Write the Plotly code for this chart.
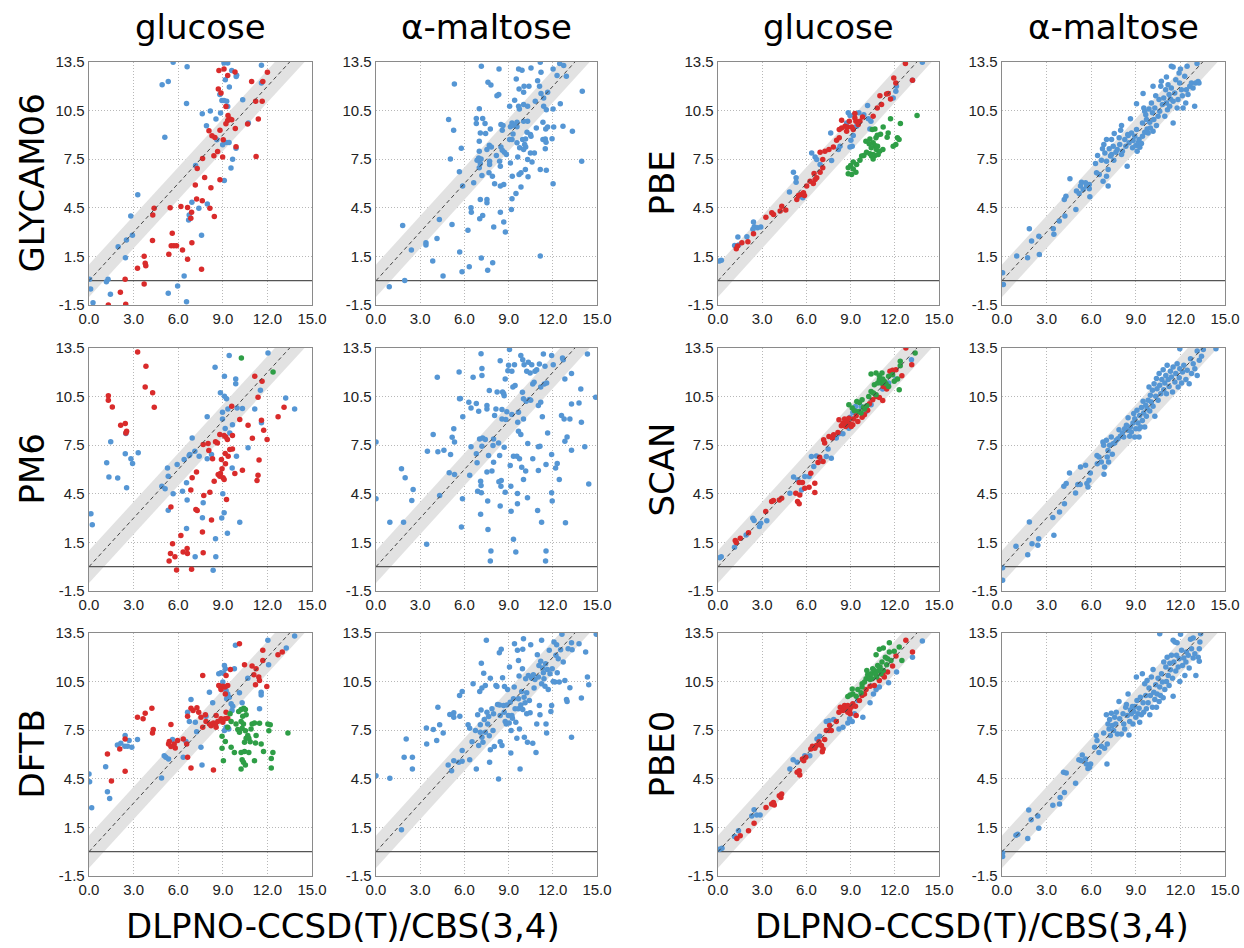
import plotly.graph_objects as go

# ---------------- labels / ticks ----------------
col_titles = ["glucose", "α-maltose", "glucose", "α-maltose"]
row_labels_left = ["GLYCAM06", "PM6", "DFTB"]
row_labels_right = ["PBE", "SCAN", "PBE0"]
x_label = "DLPNO-CCSD(T)/CBS(3,4)"
x_ticks = [0.0, 3.0, 6.0, 9.0, 12.0, 15.0]
y_ticks = [-1.5, 1.5, 4.5, 7.5, 10.5, 13.5]
x_range = [0.0, 15.0]
y_range = [-1.5, 13.5]
band_half = 1.0

# ---------------- data (x = DLPNO-CCSD(T), y = method) ----------------
glycam_glc_blue = [(5.66,13.48),(6.6,13.2),(4.92,12.1),(5.33,12.3),(6.56,10.94),(5.1,8.86),(7.62,10.3),(7.9,9.56),(8.16,10.47),(8.85,10.35),(8.54,9.98),(9.08,13.44),(9.33,13.44),(9.6,12.98),(9.93,12.68),(9.9,12.6),(9.17,12.4),(9.44,11.95),(8.8,11.5),(8.94,11.13),(9.08,11.13),(9.26,11.07),(9.33,10.76),(10.34,11.17),(11.6,13.3),(11.6,12.2),(8.6,8.7),(8.99,8.39),(9.26,8.53),(9.42,8.53),(9.89,8.18),(9.66,7.5),(9.55,6.95),(9.1,6.18),(10.72,9.73),(7.17,7.11),(3.28,5.3),(2.81,4.0),(2.92,2.8),(2.52,2.52),(1.96,2.1),(2.45,1.42),(6.92,4.85),(7.39,4.47),(7.96,4.74),(6.74,4.06),(6.7,3.75),(7.57,2.8),(6.4,0.29),(5.96,-0.33),(5.33,-0.78),(6.56,-1.3),(1.28,0.09),(1.17,-0.06),(1.44,-0.84),(0.11,-0.51),(0.04,0.09),(0.27,-1.36)]
glycam_glc_red = [(8.74,12.98),(9.08,13.07),(9.33,12.66),(9.82,12.88),(10.94,12.3),(12.0,12.86),(11.69,12.3),(11.21,11.07),(11.65,11.07),(8.7,11.83),(8.88,11.58),(9.21,10.76),(9.35,10.2),(9.33,9.89),(9.48,9.98),(9.21,9.69),(9.6,9.93),(9.84,9.4),(8.81,9.28),(8.07,9.26),(8.27,8.95),(8.47,8.84),(9.03,8.7),(8.65,7.98),(8.4,7.71),(8.99,7.63),(7.64,7.54),(7.28,6.93),(7.78,6.37),(8.81,6.23),(7.15,5.9),(8.2,5.73),(7.24,5.05),(7.62,4.93),(8.13,4.47),(8.43,3.96),(6.18,4.58),(6.63,4.52),(6.9,4.23),(6.85,3.86),(5.46,4.5),(4.38,4.47),(4.29,4.06),(4.27,2.48),(5.6,2.93),(5.53,2.15),(5.71,2.15),(5.89,2.15),(5.37,1.63),(6.29,1.9),(6.92,2.35),(6.63,1.32),(7.57,0.7),(3.71,1.51),(3.78,1.07),(3.82,0.93),(3.26,0.77),(3.71,-0.2),(2.43,0.09),(2.11,-0.72),(2.47,-1.46),(1.3,-1.5),(11.39,9.98),(11.24,7.67),(10.67,9.67),(9.89,8.27)]
glycam_mal = [(7.15,13.23),(8.35,13.07),(9.68,13.07),(9.91,12.99),(10.52,13.13),(11.15,13.48),(11.2,12.86),(12.02,13.07),(12.47,13.4),(12.74,13.29),(12.29,12.66),(12.92,12.62),(5.32,12.14),(7.6,12.25),(7.8,12.08),(9.52,12.45),(9.71,11.84),(10.02,11.63),(10.05,12.0),(10.38,12.0),(10.97,12.35),(11.1,12.0),(11.2,11.55),(11.38,11.28),(11.65,11.63),(10.81,11.08),(8.21,11.42),(8.33,11.49),(9.41,11.14),(9.07,10.77),(9.68,10.77),(9.73,10.6),(10.02,10.87),(10.29,10.77),(11.38,10.77),(11.56,10.56),(12.02,10.6),(12.51,10.93),(7.01,10.62),(4.93,9.95),(6.81,10.01),(7.24,10.01),(6.81,9.7),(7.4,9.7),(5.27,9.29),(7.08,9.12),(7.44,9.08),(7.76,9.37),(8.48,9.64),(8.57,9.29),(8.62,9.58),(9.12,9.5),(9.23,9.74),(9.34,9.58),(9.57,9.78),(9.57,9.5),(9.3,9.06),(9.23,8.71),(9.07,8.71),(9.57,8.51),(9.95,8.71),(10.15,8.75),(10.25,9.16),(10.48,9.02),(10.52,8.92),(10.29,9.84),(10.02,9.84),(10.88,9.43),(11.33,9.78),(11.52,9.37),(11.65,9.49),(12.06,9.49),(12.69,9.54),(13.33,9.23),(11.33,8.71),(11.49,8.75),(11.54,8.55),(11.95,8.77),(11.49,8.14),(10.16,8.26),(9.75,8.2),(10.02,8.1),(10.09,8.4),(10.48,7.89),(10.75,7.89),(10.29,7.48),(10.59,7.32),(9.62,7.64),(9.12,7.27),(8.48,8.26),(8.57,8.05),(8.71,7.93),(8.85,7.79),(8.39,7.38),(8.44,7.07),(7.69,8.36),(7.83,8.26),(7.53,8.1),(8.17,7.73),(7.01,7.99),(7.01,8.61),(5.79,8.18),(5.05,7.52),(6.97,7.58),(7.13,7.52),(7.08,7.23),(7.01,6.97),(6.86,7.44),(7.71,7.38),(7.71,7.17),(7.19,6.49),(7.67,6.66),(7.9,6.45),(6.63,6.04),(5.88,5.84),(5.66,6.72),(8.05,5.98),(8.44,5.84),(8.67,5.94),(9.25,6.45),(9.71,6.55),(9.84,6.66),(9.84,5.79),(10.14,6.86),(10.32,6.41),(11.15,6.86),(11.56,6.82),(12.02,5.98),(13.96,7.38),(14.0,11.69),(9.5,5.38),(9.23,5.06),(7.08,5.01),(7.53,5.01),(7.53,4.81),(6.45,4.5),(6.47,4.23),(9.19,4.4),(8.44,4.23),(7.24,4.03),(7.04,3.82),(5.16,3.47),(4.3,3.78),(1.81,3.41),(6.24,3.12),(7.99,3.31),(8.67,3.62),(8.78,3.0),(4.14,2.61),(3.39,2.34),(3.39,2.2),(2.4,1.89),(5.68,1.77),(7.15,1.4),(3.85,1.21),(7.92,1.11),(11.15,1.52),(6.33,0.86),(5.84,0.55),(7.58,0.64),(4.55,0.29),(1.95,0.02),(0.9,-0.37)]

pm6_glc_blue = [(0.13,3.27),(0.22,2.59),(1.19,6.41),(1.34,5.53),(1.46,7.71),(1.93,5.47),(2.44,6.97),(2.48,8.22),(2.53,4.87),(2.82,6.66),(2.93,6.37),(3.31,7.03),(4.9,4.97),(5.12,4.81),(5.28,6.1),(5.33,5.59),(5.33,3.49),(5.66,4.5),(5.93,6.31),(6.29,4.66),(6.4,6.62),(6.56,5.18),(6.6,4.11),(6.56,2.36),(6.74,6.86),(6.78,6.92),(6.94,7.95),(7.12,7.13),(7.14,0.62),(7.41,6.82),(7.68,3.95),(7.63,3.02),(7.95,9.25),(7.95,6.66),(8.24,6.92),(8.35,-0.22),(8.48,12.31),(8.51,1.73),(8.53,0.62),(8.84,10.73),(8.93,3.0),(8.98,9.53),(8.98,9.12),(9.0,4.5),(9.09,3.33),(9.11,11.75),(9.11,10.52),(9.16,8.53),(9.25,10.36),(9.31,2.06),(9.34,9.74),(9.43,13.03),(9.47,8.26),(9.65,8.77),(9.63,6.1),(9.87,11.59),(9.87,11.3),(9.92,6.82),(9.96,9.8),(10.14,2.75),(10.32,9.76),(10.7,7.34),(11.15,9.74),(11.53,10.89),(11.6,8.88),(12.04,13.19),(13.23,10.42),(13.83,9.74)]
pm6_glc_red = [(3.27,13.25),(3.83,12.37),(3.78,11.1),(4.28,10.73),(4.39,9.84),(1.3,10.56),(1.3,10.27),(1.57,9.86),(2.13,8.73),(2.44,8.84),(2.53,8.36),(2.48,8.26),(5.51,3.68),(5.62,1.42),(5.78,0.62),(5.48,0.82),(5.39,0.35),(5.89,-0.2),(6.18,1.93),(6.33,0.9),(6.6,1.13),(6.62,0.82),(6.9,-0.16),(6.85,4.73),(6.94,5.49),(7.19,3.53),(7.28,3.47),(7.23,5.84),(7.68,7.54),(7.72,4.4),(7.63,2.14),(7.68,0.86),(8.01,7.6),(8.06,7.17),(8.13,4.6),(8.24,2.88),(8.31,6.66),(8.42,5.28),(8.51,7.71),(8.64,7.64),(8.69,5.69),(8.8,8.16),(8.8,5.59),(8.91,6.62),(8.95,6.04),(8.84,5.75),(9.02,5.49),(9.09,5.38),(9.09,8.1),(9.2,8.01),(9.16,6.99),(9.18,6.35),(9.25,4.15),(9.31,7.85),(9.36,6.82),(9.47,7.23),(9.6,9.9),(9.65,7.27),(9.81,5.75),(9.65,8.1),(10.14,9.08),(10.32,5.96),(10.7,8.73),(10.99,7.93),(11.3,5.32),(11.37,5.65),(11.44,6.58),(11.37,10.46),(11.6,9.04),(11.64,11.45),(11.15,11.75),(11.75,8.42),(11.98,7.85),(12.72,9.25),(13.12,9.84)]
pm6_glc_green = [(10.25,12.88),(12.38,12.02)]
pm6_mal = [(0.0,7.69),(0.0,4.19),(0.94,2.75),(1.87,2.75),(1.73,6.04),(1.98,5.49),(2.43,4.09),(2.52,4.77),(3.44,1.38),(3.49,7.13),(3.88,8.16),(4.16,11.69),(4.2,7.09),(4.32,4.4),(4.61,7.19),(5.06,6.92),(4.97,5.8),(5.17,7.99),(5.28,8.51),(5.33,5.69),(5.33,7.69),(5.67,10.36),(5.73,10.38),(5.64,12.02),(5.8,2.45),(5.89,9.25),(5.87,4.19),(6.3,10.15),(6.36,5.65),(6.45,9.8),(6.45,7.4),(6.59,11.69),(6.81,10.07),(6.86,6.41),(6.97,9.6),(6.81,6.97),(6.9,4.66),(7.03,7.89),(7.1,3.23),(7.13,13.15),(7.19,12.23),(7.1,5.28),(7.13,5.01),(7.15,4.56),(7.19,11.8),(7.19,7.44),(7.24,7.95),(7.42,7.85),(7.53,9.95),(7.53,9.74),(7.53,5.84),(7.58,4.05),(7.6,2.3),(7.64,6.86),(7.69,10.87),(7.76,0.35),(7.8,0.97),(7.87,5.9),(7.94,7.48),(7.98,7.89),(7.98,6.45),(8.05,9.33),(8.14,9.74),(8.22,10.79),(8.32,7.64),(8.34,5.24),(8.39,6.86),(8.43,12.72),(8.43,3.74),(8.48,4.97),(8.5,5.32),(8.55,9.7),(8.55,9.12),(8.59,10.79),(8.66,10.69),(8.7,10.56),(8.7,7.38),(8.77,11.59),(8.77,4.6),(8.81,9.08),(8.88,9.56),(8.95,12.1),(9.0,12.43),(9.06,13.4),(9.11,6.25),(9.15,4.97),(9.17,3.43),(9.22,9.39),(9.22,12.06),(9.29,11.1),(9.33,1.69),(9.33,6.82),(9.4,12.47),(9.44,11.18),(9.49,0.9),(9.56,6.82),(9.6,4.52),(9.6,3.88),(9.62,8.92),(9.67,9.53),(9.67,8.36),(9.74,6.66),(9.83,8.16),(9.83,13.03),(9.89,6.14),(9.94,10.77),(9.96,12.78),(10.01,5.38),(10.01,10.36),(10.01,9.12),(10.05,12.47),(10.16,5.9),(10.19,10.21),(10.23,12.06),(10.28,4.25),(10.3,7.6),(10.34,12.62),(10.41,10.32),(10.46,11.96),(10.5,10.27),(10.57,12.47),(10.64,11.28),(10.64,6.66),(10.73,11.38),(10.79,12.06),(10.91,12.16),(10.97,3.47),(11.02,9.95),(11.02,7.4),(11.02,5.94),(11.09,12.51),(11.13,7.44),(11.18,11.1),(11.18,10.15),(11.24,2.75),(11.29,9.25),(11.36,13.13),(11.42,11.28),(11.47,12.37),(11.51,0.35),(11.54,0.97),(11.54,6.31),(11.58,11.34),(11.65,8.26),(11.92,13.03),(11.92,6.92),(11.92,4.56),(11.96,4.05),(12.03,12.47),(12.19,6.1),(12.3,6.37),(12.44,5.38),(12.59,9.33),(12.66,12.88),(12.71,12.78),(12.77,9.12),(12.82,11.59),(12.82,7.75),(12.86,2.71),(12.97,8.01),(13.16,9.12),(13.27,10.05),(13.27,11.92),(13.27,7.19),(13.78,10.11),(13.9,10.97),(13.94,8.92),(14.17,7.4),(14.35,13.13),(14.44,5.11),(14.91,10.46)]

dftb_glc_blue = [(0.0,4.79),(0.04,4.32),(0.18,2.71),(1.12,5.25),(1.24,3.7),(1.39,3.29),(1.91,6.59),(2.14,6.69),(2.41,6.51),(2.43,7.17),(2.59,6.51),(2.7,6.86),(2.88,6.44),(3.26,6.92),(4.88,4.55),(5.06,5.93),(5.17,5.83),(5.35,5.72),(5.62,6.92),(6.34,5.83),(6.52,6.8),(6.63,8.61),(6.86,9.39),(6.75,8.03),(7.15,7.99),(7.24,7.41),(7.53,6.44),(7.6,5.35),(7.87,8.36),(8.1,9.85),(8.32,9.19),(8.73,10.98),(8.88,11.04),(9.06,11.02),(9.0,10.47),(9.11,11.5),(9.17,11.29),(9.22,9.95),(9.33,9.74),(9.26,9.44),(9.44,9.54),(9.56,9.13),(9.67,8.98),(9.62,8.71),(9.4,7.58),(9.11,7.48),(9.78,11.29),(9.85,12.74),(10.12,9.81),(10.3,9.19),(10.68,10.71),(11.47,8.82),(11.58,9.85),(11.58,9.68),(12.08,11.54),(12.03,13.05),(13.27,12.57),(13.83,13.31),(9.22,7.68)]
dftb_glc_red = [(10.12,12.84),(10.97,11.46),(11.24,11.29),(11.69,12.43),(11.69,11.81),(11.09,10.92),(11.42,10.78),(11.47,10.57),(11.2,10.3),(11.96,10.2),(12.71,12.16),(13.0,12.32),(10.46,11.54),(9.51,11.25),(9.22,10.88),(8.73,10.26),(8.82,10.2),(9.0,10.22),(9.15,10.16),(8.88,10.01),(9.33,10.26),(9.17,9.74),(7.65,10.88),(6.86,8.86),(7.0,8.71),(7.26,8.88),(7.38,8.61),(6.63,8.36),(7.53,8.3),(7.83,8.45),(7.87,8.03),(8.1,7.89),(8.21,7.78),(8.37,7.95),(8.5,7.83),(8.66,8.03),(8.88,8.2),(9.0,7.99),(9.15,8.2),(9.33,8.24),(9.22,8.61),(8.55,8.4),(7.65,7.68),(8.55,7.68),(6.57,6.65),(6.34,6.96),(5.96,6.86),(5.73,6.65),(5.8,6.4),(5.4,6.8),(5.35,6.65),(5.51,6.49),(6.86,5.17),(6.63,5.83),(5.51,7.85),(8.37,5.04),(4.23,8.86),(3.78,8.55),(3.64,8.2),(3.26,8.3),(4.32,7.54),(4.27,7.33),(2.43,6.96),(2.07,6.34),(1.24,6.03),(2.43,4.96),(1.51,4.36)]
dftb_glc_green = [(8.95,7.13),(8.95,6.38),(9.17,6.8),(9.04,5.62),(9.33,7.68),(9.49,8.51),(9.56,8.03),(9.89,7.89),(10.01,7.54),(10.12,7.37),(10.23,8.03),(10.3,7.62),(10.34,8.36),(10.41,8.86),(10.52,8.78),(10.57,8.45),(10.23,8.78),(10.07,8.65),(10.39,7.89),(10.52,7.47),(10.68,7.17),(10.75,7.0),(10.57,7.0),(10.46,6.75),(10.84,6.79),(10.97,7.89),(11.13,7.95),(10.9,7.58),(11.24,7.17),(11.2,6.71),(11.47,7.93),(11.58,6.65),(11.74,6.18),(12.03,7.89),(12.19,7.83),(12.1,7.47),(12.37,6.13),(12.26,5.76),(12.26,5.17),(10.23,6.13),(10.46,6.18),(10.3,5.68),(10.39,5.52),(10.52,5.35),(10.23,5.1),(10.75,6.13),(11.13,5.62),(9.78,6.13),(9.56,6.44),(13.38,7.33)]
dftb_mal = [(0.0,4.69),(0.94,4.53),(1.73,1.35),(1.91,5.83),(2.05,6.96),(2.47,5.83),(2.47,5.1),(3.42,7.64),(3.44,6.65),(3.89,7.54),(4.12,6.86),(4.2,8.92),(4.32,7.83),(4.56,7.33),(5.01,8.47),(4.9,5.35),(5.13,5.0),(5.28,8.57),(5.28,8.3),(5.28,5.62),(5.62,5.52),(5.69,8.36),(5.67,9.64),(5.85,9.89),(5.85,6.24),(5.85,5.58),(6.25,7.83),(6.36,7.62),(6.36,5.68),(6.52,6.79),(6.59,10.36),(6.75,7.48),(6.81,5.1),(6.9,8.45),(6.97,6.55),(7.04,9.89),(7.08,7.83),(7.08,7.37),(7.13,8.75),(7.15,11.64),(7.19,10.1),(7.19,7.06),(7.26,6.75),(7.31,11.02),(7.35,8.16),(7.42,10.26),(7.42,7.37),(7.49,13.05),(7.53,8.61),(7.58,7.89),(7.65,8.34),(7.69,7.16),(7.71,5.52),(7.76,6.3),(7.76,10.71),(7.87,8.82),(7.94,7.48),(7.98,8.51),(8.03,6.49),(8.14,10.26),(8.21,10.2),(8.25,9.08),(8.32,4.48),(8.37,12.28),(8.39,9.06),(8.43,8.4),(8.43,6.79),(8.5,12.49),(8.55,6.55),(8.59,10.74),(8.66,9.02),(8.7,8.61),(8.72,10.2),(8.77,8.03),(8.84,7.89),(8.88,9.06),(8.93,10.01),(8.99,8.4),(9.04,7.95),(9.06,11.4),(9.11,9.23),(9.15,6.09),(9.17,7.48),(9.22,8.4),(9.26,8.24),(9.33,9.44),(9.38,10.16),(9.4,12.84),(9.44,8.82),(9.49,7.99),(9.56,7.0),(9.6,12.43),(9.67,11.81),(9.67,9.44),(9.67,8.82),(9.71,10.84),(9.74,7.58),(9.78,5.1),(9.83,9.06),(9.89,9.89),(9.94,11.29),(9.96,12.49),(9.96,8.78),(10.01,13.15),(10.05,9.54),(10.07,7.06),(10.12,9.19),(10.16,10.67),(10.23,9.81),(10.23,8.51),(10.28,6.75),(10.34,10.88),(10.41,9.33),(10.46,8.57),(10.5,12.78),(10.57,10.71),(10.64,6.69),(10.68,10.92),(10.73,10.1),(10.79,10.63),(10.86,6.13),(10.91,7.89),(10.95,12.16),(11.02,10.78),(11.06,11.5),(11.09,9.02),(11.13,8.45),(11.18,11.75),(11.24,10.36),(11.24,13.05),(11.31,11.34),(11.36,11.05),(11.4,10.67),(11.47,10.22),(11.51,11.6),(11.54,7.89),(11.58,7.33),(11.63,11.25),(11.69,10.01),(11.76,12.43),(11.81,10.98),(11.87,8.65),(11.92,9.02),(11.96,11.29),(12.03,10.51),(12.08,12.94),(12.14,10.47),(12.21,12.12),(12.26,12.78),(12.3,11.04),(12.37,11.91),(12.44,10.47),(12.53,12.47),(12.62,13.42),(12.71,11.71),(12.82,10.57),(12.93,9.4),(12.97,9.27),(13.04,12.53),(13.16,10.12),(13.27,12.9),(13.27,7.06),(13.31,12.47),(13.78,12.84),(13.94,9.48),(14.23,12.32),(14.35,10.78),(14.44,10.3),(14.95,13.42)]

pbe_glc_blue = [(0.09,1.21),(0.23,1.27),(1.35,2.69),(1.13,2.18),(1.4,2.2),(1.96,2.71),(2.41,3.62),(2.46,3.33),(2.68,3.27),(2.91,3.31),(2.37,3.17),(5.12,6.7),(5.3,6.35),(5.3,6.08),(4.85,5.47),(5.57,5.22),(5.75,5.12),(6.36,7.89),(6.59,7.64),(6.7,7.48),(6.93,7.17),(7.71,7.42),(7.65,9.12),(8.17,8.1),(8.28,8.3),(9.02,8.67),(8.96,8.26),(9.11,8.3),(9.18,8.96),(8.84,10.36),(8.96,10.19),(9.25,10.25),(9.56,10.36),(9.9,10.25),(10.2,9.99),(10.38,9.84),(10.15,10.81),(10.31,9.37),(12.11,12.0),(12.07,11.69),(11.89,11.28),(13.87,13.48),(13.2,12.37),(8.73,9.74),(9.41,9.53)]
pbe_glc_red = [(1.24,1.97),(1.33,2.14),(1.62,2.34),(2.03,2.4),(2.41,2.9),(3.25,3.92),(3.65,4.19),(3.77,4.09),(4.22,4.3),(4.33,4.6),(4.6,4.36),(5.35,5.01),(5.46,5.26),(5.62,5.32),(5.8,5.43),(5.87,5.26),(6.02,5.84),(6.25,6.14),(6.47,6.0),(6.59,6.25),(6.7,6.35),(6.52,6.62),(6.93,6.7),(7.11,6.97),(7.11,7.48),(7.26,7.99),(6.93,7.93),(7.53,8.1),(7.83,8.26),(8.05,8.67),(8.23,8.82),(8.39,9.43),(8.23,9.33),(8.62,9.53),(8.8,9.49),(9.07,9.49),(8.73,9.23),(9.18,9.33),(8.91,9.84),(9.36,9.84),(9.29,10.05),(9.63,9.84),(9.81,10.11),(8.39,9.9),(9.52,9.64),(9.29,10.32),(10.53,10.15),(10.81,10.66),(10.99,11.42),(11.44,11.53),(11.55,11.55),(11.71,11.22),(11.1,10.87),(11.93,12.51),(12.07,12.2),(12.72,13.4),(13.2,12.37)]
pbe_glc_green = [(13.51,10.19),(12.38,9.7),(11.71,9.99),(11.21,9.49),(11.55,9.12),(11.48,8.86),(12.18,8.82),(12.29,8.71),(12.07,8.4),(11.89,8.3),(10.65,9.37),(10.47,9.33),(10.81,8.98),(11.03,9.04),(10.72,8.82),(10.31,8.75),(10.53,8.51),(10.26,8.45),(10.65,8.34),(10.83,8.3),(10.4,8.2),(10.74,8.1),(10.97,7.99),(11.19,8.1),(10.08,7.93),(10.31,7.83),(10.53,7.79),(9.9,7.73),(9.75,7.69),(10.42,7.69),(10.65,7.73),(10.87,7.79),(9.63,7.44),(10.53,7.52),(9.41,7.17),(9.18,7.32),(9.0,7.11),(8.84,6.97),(9.18,6.9),(8.84,6.6),(9.07,6.55),(9.36,6.7),(10.04,8.61)]
pbe_mal = [(0.04,0.49),(0.09,-0.23),(0.99,1.52),(1.84,3.21),(1.72,1.42),(1.99,2.45),(2.48,2.75),(2.51,1.62),(3.45,3.21),(3.49,2.86),(3.85,3.68),(4.23,3.99),(4.3,5.22),(4.19,5.01),(4.57,6.29),(5.01,5.53),(4.97,4.4),(5.19,5.38),(5.28,5.84),(5.35,6.08),(5.46,5.63),(5.69,5.84),(5.87,5.67),(5.91,5.18),(5.87,5.94),(6.29,7.23),(6.43,7.73),(6.54,6.55),(6.69,7.44),(6.8,6.14),(6.85,8.4),(6.92,7.89),(7.03,7.38),(7.03,6.45),(7.14,5.84),(7.14,6.86),(7.21,8.14),(7.3,7.69),(7.37,8.71),(7.48,8.3),(7.52,7.44),(7.66,7.93),(7.75,8.1),(7.88,8.82),(7.92,8.4),(8.04,9.58),(8.1,7.99),(8.26,8.71),(8.33,8.3),(8.42,7.07),(8.49,8.96),(8.55,8.51),(8.64,9.99),(8.71,9.12),(8.78,8.2),(8.82,8.65),(8.93,8.92),(9.0,8.34),(9.05,9.33),(9.09,7.99),(9.16,8.51),(9.22,8.71),(9.27,8.24),(9.38,8.47),(9.45,8.92),(9.49,11.55),(9.05,10.93),(9.54,10.66),(9.6,10.46),(9.67,10.25),(9.72,9.95),(9.76,9.37),(9.83,9.12),(9.89,10.6),(9.94,9.78),(9.98,9.43),(10.05,10.97),(10.12,10.36),(10.16,9.23),(10.21,9.95),(10.28,10.66),(10.34,11.42),(10.39,9.58),(10.5,10.15),(10.56,11.18),(10.61,10.46),(10.68,12.0),(10.79,10.87),(10.88,11.28),(10.95,10.15),(11.01,11.79),(11.06,10.97),(11.13,10.56),(11.17,12.1),(11.24,11.49),(11.28,10.77),(11.33,11.22),(11.39,11.9),(11.51,9.74),(11.51,11.08),(11.62,11.59),(11.69,12.41),(11.78,10.66),(11.84,11.18),(11.91,12.82),(11.95,12.2),(12.0,13.07),(12.07,11.79),(12.13,11.42),(12.18,10.66),(12.29,12.62),(12.36,10.97),(12.4,11.79),(12.45,13.23),(12.51,11.49),(12.63,12.0),(12.74,12.2),(12.85,11.9),(12.96,10.77),(13.03,12.2),(13.12,13.4),(13.19,12.3),(13.25,12.2),(11.39,13.23),(11.51,13.19),(11.06,12.58),(10.72,12.31),(10.16,12.0),(9.45,9.74),(9.6,9.16),(8.46,9.02),(7.98,9.29),(7.55,9.08),(7.37,7.79),(8.04,7.79),(7.03,8.71),(6.76,8.14),(6.36,6.66),(5.62,6.04)]

scan_glc_blue = [(0.11,0.56),(0.22,0.62),(1.12,1.2),(1.91,1.96),(2.36,2.99),(2.45,2.85),(2.81,2.48),(2.9,2.68),(3.31,2.83),(4.88,4.54),(5.13,5.53),(5.42,5.36),(5.67,4.74),(5.89,5.57),(6.18,5.57),(6.34,6.8),(6.5,6.18),(6.68,6.84),(7.02,6.54),(7.35,6.8),(7.47,7.26),(7.69,6.7),(8.03,7.94),(8.21,8.2),(8.48,8.2),(8.7,8.86),(8.88,8.55),(8.97,9.23),(9.15,9.52),(9.33,9.89),(9.49,9.58),(9.71,9.89),(10.05,9.58),(10.39,10.0),(11.18,10.97),(11.36,11.23),(11.58,11.34),(12.08,11.58),(13.13,12.78)]
scan_glc_red = [(1.17,1.61),(1.24,1.49),(1.51,1.75),(2.07,2.1),(3.24,3.4),(3.64,4.02),(3.76,4.08),(4.16,4.12),(4.32,4.23),(5.28,4.54),(5.4,4.02),(5.51,3.88),(5.55,4.43),(5.51,5.2),(5.73,5.2),(5.89,4.85),(6.18,4.91),(6.3,5.77),(6.57,5.15),(6.57,4.58),(6.79,6.43),(6.9,6.76),(7.13,6.49),(7.24,7.63),(7.17,7.83),(7.53,8.04),(7.76,7.94),(7.85,8.14),(8.14,8.29),(8.21,9.07),(8.37,8.7),(8.48,8.86),(8.59,9.11),(8.66,8.66),(8.77,8.97),(8.81,8.76),(8.88,9.17),(8.97,8.82),(9.15,8.76),(9.04,8.66),(9.2,9.11),(9.38,9.32),(9.49,8.97),(9.78,9.23),(9.94,9.38),(10.16,9.65),(10.28,10.06),(10.5,10.31),(10.73,10.51),(10.95,10.45),(11.18,10.26),(11.22,11.13),(11.45,10.97),(11.67,12.06),(11.85,12.12),(12.08,12.16),(12.48,11.79),(12.75,13.5),(13.15,12.47)]
scan_glc_green = [(8.88,9.99),(9.11,9.79),(9.42,10.2),(9.6,10.14),(9.78,10.31),(9.94,9.73),(10.1,9.93),(10.23,10.51),(10.39,10.82),(10.55,10.72),(10.73,10.62),(10.61,11.23),(10.84,11.34),(10.95,11.54),(11.06,11.34),(11.18,11.58),(11.29,11.44),(11.4,11.3),(10.39,11.89),(10.73,11.95),(10.95,11.79),(11.13,11.95),(11.58,11.75),(11.85,11.85),(11.96,11.44),(12.19,11.58),(12.3,10.92),(12.37,12.68),(12.37,12.41),(13.38,13.19),(9.56,9.58),(9.87,9.85),(9.71,9.48),(9.26,9.63),(11.58,11.13)]
scan_mal = [(0.04,-0.06),(0.04,-0.84),(0.94,1.26),(1.73,0.74),(1.84,2.76),(2.02,1.42),(2.41,1.32),(2.47,1.73),(3.42,3.03),(3.49,1.94),(3.87,3.38),(4.2,3.89),(4.16,4.96),(4.32,5.13),(4.54,5.78),(4.95,4.55),(5.1,5.08),(5.26,5.08),(5.28,6.15),(5.62,6.26),(5.71,5.13),(5.85,5.33),(5.78,4.92),(5.94,5.78),(6.39,6.87),(6.52,6.77),(6.41,6.36),(6.68,6.46),(6.79,7.7),(6.84,7.49),(6.86,5.7),(6.9,6.15),(7.02,7.8),(7.08,6.77),(7.13,7.18),(7.24,7.49),(7.35,8.01),(7.47,7.59),(7.58,7.64),(7.69,7.8),(7.8,7.9),(7.87,8.46),(7.96,8.05),(8.1,8.25),(8.19,8.01),(8.25,8.52),(8.37,8.73),(8.48,8.42),(8.48,9.2),(8.59,8.05),(8.64,8.62),(8.7,8.31),(8.81,8.87),(8.86,9.45),(8.93,9.14),(9.0,8.52),(9.08,9.65),(9.15,8.87),(9.22,8.01),(9.26,9.34),(9.33,8.62),(9.38,9.82),(9.44,9.03),(9.49,10.21),(9.53,9.49),(9.6,8.62),(9.67,9.96),(9.71,9.28),(9.76,9.75),(9.83,10.27),(9.89,11.09),(9.94,9.61),(9.98,10.58),(10.05,10.17),(10.12,10.89),(10.16,9.9),(10.23,11.3),(10.28,9.28),(10.34,10.52),(10.39,11.61),(10.43,10.99),(10.5,10.27),(10.57,11.92),(10.61,11.2),(10.68,10.68),(10.75,11.55),(10.84,12.16),(10.88,10.93),(10.95,11.34),(11.02,11.81),(11.06,10.68),(11.11,12.43),(11.18,11.55),(11.24,11.13),(11.33,12.07),(11.4,11.71),(11.47,10.78),(11.51,12.33),(11.63,11.4),(11.69,11.92),(11.78,12.53),(11.85,11.09),(11.92,11.67),(11.96,12.22),(12.08,11.34),(12.14,12.02),(12.23,12.43),(12.37,11.55),(12.46,12.12),(12.59,11.3),(12.68,12.84),(12.75,11.92),(12.86,12.53),(12.97,12.22),(13.13,13.31),(13.27,12.74),(13.42,12.99),(13.54,13.4),(13.13,11.81),(14.39,13.46),(11.96,13.46),(9.22,8.52),(8.93,8.01),(7.42,6.94),(7.17,6.46)]

pbe0_glc_blue = [(0.11,0.15),(0.27,0.21),(1.12,0.94),(1.39,1.29),(2.29,2.21),(2.45,2.59),(2.63,2.26),(2.86,2.26),(4.88,5.1),(5.1,5.68),(5.37,5.52),(5.89,5.93),(6.23,5.93),(6.57,6.44),(6.72,6.96),(6.9,7.12),(7.35,8.03),(7.53,8.09),(7.85,8.16),(8.21,7.58),(8.48,7.68),(8.81,7.95),(8.93,8.2),(9.11,8.03),(9.26,8.51),(9.49,9.33),(9.83,8.3),(10.32,9.19),(10.55,9.74),(10.73,10.01),(10.95,10.16),(11.58,10.43),(12.12,11.09),(13.87,13.0),(13.2,12.01),(8.59,8.78)]
pbe0_glc_red = [(1.28,0.81),(1.51,0.98),(2.07,1.29),(2.45,1.76),(3.26,2.73),(3.64,2.94),(3.76,3.04),(3.82,2.88),(4.16,3.45),(4.27,3.35),(4.32,3.56),(5.37,4.9),(5.51,5.0),(5.55,4.73),(5.73,5.72),(5.82,5.62),(5.96,5.83),(6.3,6.34),(6.41,6.51),(6.57,6.38),(6.68,6.55),(6.86,6.79),(7.02,6.55),(7.13,6.34),(7.24,6.92),(7.08,6.17),(7.35,7.48),(7.53,7.48),(7.69,7.48),(7.58,7.79),(8.03,8.03),(8.21,8.61),(8.3,8.92),(8.48,8.71),(8.59,9.02),(8.7,8.82),(8.81,9.02),(8.81,8.61),(8.93,8.71),(9.04,8.92),(8.97,8.51),(9.15,9.13),(9.33,8.98),(9.6,9.33),(9.78,9.64),(9.94,9.74),(10.05,10.01),(10.32,10.22),(10.61,10.26),(10.95,10.57),(11.18,10.92),(11.29,10.78),(11.51,11.09),(11.85,11.46),(12.08,12.08),(12.75,13.05),(13.2,12.32),(9.38,8.4)]
pbe0_glc_green = [(8.81,9.58),(8.97,9.68),(9.15,9.74),(9.11,10.05),(9.49,10.01),(9.38,9.6),(9.71,9.81),(9.78,10.36),(9.94,10.47),(10.05,10.67),(10.16,10.92),(10.28,10.78),(10.39,10.98),(10.46,10.67),(10.5,11.29),(10.61,11.19),(10.68,10.98),(10.77,10.78),(10.84,11.5),(10.91,11.19),(11.0,11.4),(11.06,10.98),(11.13,11.71),(11.22,11.19),(11.36,12.01),(11.45,11.54),(11.51,11.91),(11.63,12.32),(11.74,11.81),(10.95,12.49),(11.22,12.57),(10.73,12.16),(11.63,12.9),(11.96,12.37),(12.3,12.63),(12.48,11.81),(10.32,10.63),(10.1,11.19),(9.78,10.16)]
pbe0_mal = [(0.04,-0.06),(0.04,-0.3),(0.94,1.02),(1.06,1.08),(1.73,0.81),(1.8,2.57),(1.96,1.97),(2.41,2.21),(2.47,1.45),(3.42,2.87),(3.87,2.94),(3.91,3.35),(4.2,3.66),(4.14,4.9),(4.32,4.86),(4.95,4.22),(5.17,5.68),(5.33,5.62),(5.4,5.97),(5.62,5.72),(5.67,5.41),(5.78,5.14),(5.89,5.21),(5.96,5.41),(6.23,6.44),(6.34,7.17),(6.39,6.86),(6.52,6.13),(6.68,6.51),(6.84,7.33),(6.9,6.38),(7.02,8.45),(7.06,5.41),(7.08,6.65),(7.13,7.89),(7.2,7.58),(7.24,8.16),(7.29,7.17),(7.35,8.55),(7.42,7.79),(7.51,7.48),(7.58,8.3),(7.65,7.89),(7.69,8.61),(7.76,7.27),(7.87,9.27),(7.92,8.2),(8.03,7.27),(8.14,8.51),(8.19,7.89),(8.25,7.58),(8.32,8.92),(8.37,9.09),(8.43,8.4),(8.48,9.74),(8.54,7.21),(8.59,8.03),(8.64,8.75),(8.7,8.51),(8.77,8.96),(8.81,7.89),(8.86,8.65),(8.93,8.96),(9.0,8.3),(9.04,10.78),(9.08,9.33),(9.15,8.51),(9.22,8.86),(9.26,7.99),(9.31,9.54),(9.38,8.45),(9.44,10.98),(9.49,9.19),(9.53,8.61),(9.6,10.36),(9.67,9.64),(9.71,8.82),(9.76,10.57),(9.83,9.19),(9.89,10.1),(9.94,8.45),(9.98,9.64),(10.05,10.78),(10.12,8.92),(10.16,11.25),(10.21,9.85),(10.28,9.4),(10.34,10.3),(10.39,8.92),(10.43,9.74),(10.5,10.71),(10.57,9.27),(10.61,10.16),(10.66,9.64),(10.73,10.98),(10.79,10.47),(10.84,9.5),(10.88,11.71),(10.95,10.01),(11.02,11.4),(11.06,10.51),(11.11,12.01),(11.18,10.88),(11.24,10.26),(11.29,11.64),(11.33,11.23),(11.4,12.12),(11.47,10.71),(11.51,9.6),(11.56,11.71),(11.63,12.94),(11.69,11.16),(11.74,12.12),(11.78,12.9),(11.85,11.4),(11.92,11.91),(11.96,10.51),(12.01,13.42),(12.08,12.43),(12.14,11.5),(12.23,11.95),(12.3,10.88),(12.37,11.71),(12.41,12.32),(12.53,12.12),(12.59,11.34),(12.68,13.12),(12.75,12.53),(12.86,11.95),(12.97,12.22),(13.04,10.88),(13.2,12.01),(13.27,12.53),(13.31,12.94),(13.36,13.46),(10.61,13.46),(11.51,13.05),(12.86,13.19),(13.27,11.75)]

# ---------------- styling ----------------
BLUE = "#5596d4"
RED = "#d92b2b"
GREEN = "#2e9e46"
W, H = 1244, 948
col_px = [(89, 312), (376, 597), (718, 939), (1002, 1225)]
row_px = [(62, 305), (348, 591), (633, 876)]

panels = [
    [[(BLUE, glycam_glc_blue), (RED, glycam_glc_red)], [(BLUE, glycam_mal)],
     [(BLUE, pbe_glc_blue), (RED, pbe_glc_red), (GREEN, pbe_glc_green)], [(BLUE, pbe_mal)]],
    [[(BLUE, pm6_glc_blue), (RED, pm6_glc_red), (GREEN, pm6_glc_green)], [(BLUE, pm6_mal)],
     [(BLUE, scan_glc_blue), (RED, scan_glc_red), (GREEN, scan_glc_green)], [(BLUE, scan_mal)]],
    [[(BLUE, dftb_glc_blue), (RED, dftb_glc_red), (GREEN, dftb_glc_green)], [(BLUE, dftb_mal)],
     [(BLUE, pbe0_glc_blue), (RED, pbe0_glc_red), (GREEN, pbe0_glc_green)], [(BLUE, pbe0_mal)]],
]

fig = go.Figure()
tick_font = dict(family="Liberation Sans, Arial, sans-serif", size=15, color="#222")
label_font = dict(family="DejaVu Sans, sans-serif", size=34, color="#000")

k = 0
for r in range(3):
    for c in range(4):
        k += 1
        xa = "x" if k == 1 else f"x{k}"
        ya = "y" if k == 1 else f"y{k}"
        # band y = x +/- band_half
        bx = [x_range[0], y_range[1] + band_half, y_range[1] - band_half, x_range[0]]
        by = [x_range[0] - band_half, y_range[1], y_range[1], x_range[0] + band_half]
        fig.add_trace(go.Scatter(x=bx, y=by, mode="lines", fill="toself",
                                 fillcolor="#e2e2e2", line=dict(width=0),
                                 hoverinfo="skip", showlegend=False, xaxis=xa, yaxis=ya))
        # zero line
        fig.add_trace(go.Scatter(x=x_range, y=[0, 0], mode="lines",
                                 line=dict(color="#555", width=1.3),
                                 hoverinfo="skip", showlegend=False, xaxis=xa, yaxis=ya))
        for color, pts in panels[r][c]:
            fig.add_trace(go.Scatter(x=[p[0] for p in pts], y=[p[1] for p in pts],
                                     mode="markers",
                                     marker=dict(color=color, size=5.5, line=dict(width=0)),
                                     showlegend=False, xaxis=xa, yaxis=ya))
        # diagonal
        fig.add_trace(go.Scatter(x=[0, y_range[1]], y=[0, y_range[1]], mode="lines",
                                 line=dict(color="#444", width=1, dash="4px,3px"),
                                 hoverinfo="skip", showlegend=False, xaxis=xa, yaxis=ya))
        x0, x1 = col_px[c]
        y0, y1 = row_px[r]
        axcommon = dict(showline=True, mirror=True, linecolor="#8a8a8a", linewidth=1.3,
                        showgrid=True, gridcolor="#b8b8b8", griddash="1px,2px", gridwidth=1,
                        zeroline=False, ticks="", tickfont=tick_font, automargin=False)
        fig.update_layout(**{
            ("xaxis" if k == 1 else f"xaxis{k}"): dict(
                domain=[x0 / W, x1 / W], range=x_range, anchor=ya,
                tickvals=x_ticks, ticktext=[f"{v:.1f}" for v in x_ticks], **axcommon),
            ("yaxis" if k == 1 else f"yaxis{k}"): dict(
                domain=[1 - y1 / H, 1 - y0 / H], range=y_range, anchor=xa,
                tickvals=y_ticks, ticktext=[f"{v:.1f}" for v in y_ticks], **axcommon),
        })

ann = []
for c, t in enumerate(col_titles):
    cx = (col_px[c][0] + col_px[c][1]) / 2
    ann.append(dict(text=t, x=cx / W, y=1 - 27 / H, xref="paper", yref="paper",
                    xanchor="center", yanchor="middle", showarrow=False, font=label_font))
for r in range(3):
    cy = (row_px[r][0] + row_px[r][1]) / 2
    ann.append(dict(text=row_labels_left[r], x=31 / W, y=1 - cy / H, xref="paper", yref="paper",
                    xanchor="center", yanchor="middle", textangle=-90, showarrow=False, font=label_font))
    ann.append(dict(text=row_labels_right[r], x=661 / W, y=1 - cy / H, xref="paper", yref="paper",
                    xanchor="center", yanchor="middle", textangle=-90, showarrow=False, font=label_font))
for cx in [(col_px[0][0] + col_px[1][1]) / 2, (col_px[2][0] + col_px[3][1]) / 2]:
    ann.append(dict(text=x_label, x=cx / W, y=1 - 926 / H, xref="paper", yref="paper",
                    xanchor="center", yanchor="middle", showarrow=False, font=label_font))

fig.update_layout(width=W, height=H, margin=dict(l=0, r=0, t=0, b=0),
                  paper_bgcolor="white", plot_bgcolor="white", annotations=ann,
                  showlegend=False, hovermode=False)

fig.write_html("out.html", config={"displayModeBar": False, "staticPlot": True},
               post_script="document.body.style.margin='0px';document.body.style.overflow='hidden';")
